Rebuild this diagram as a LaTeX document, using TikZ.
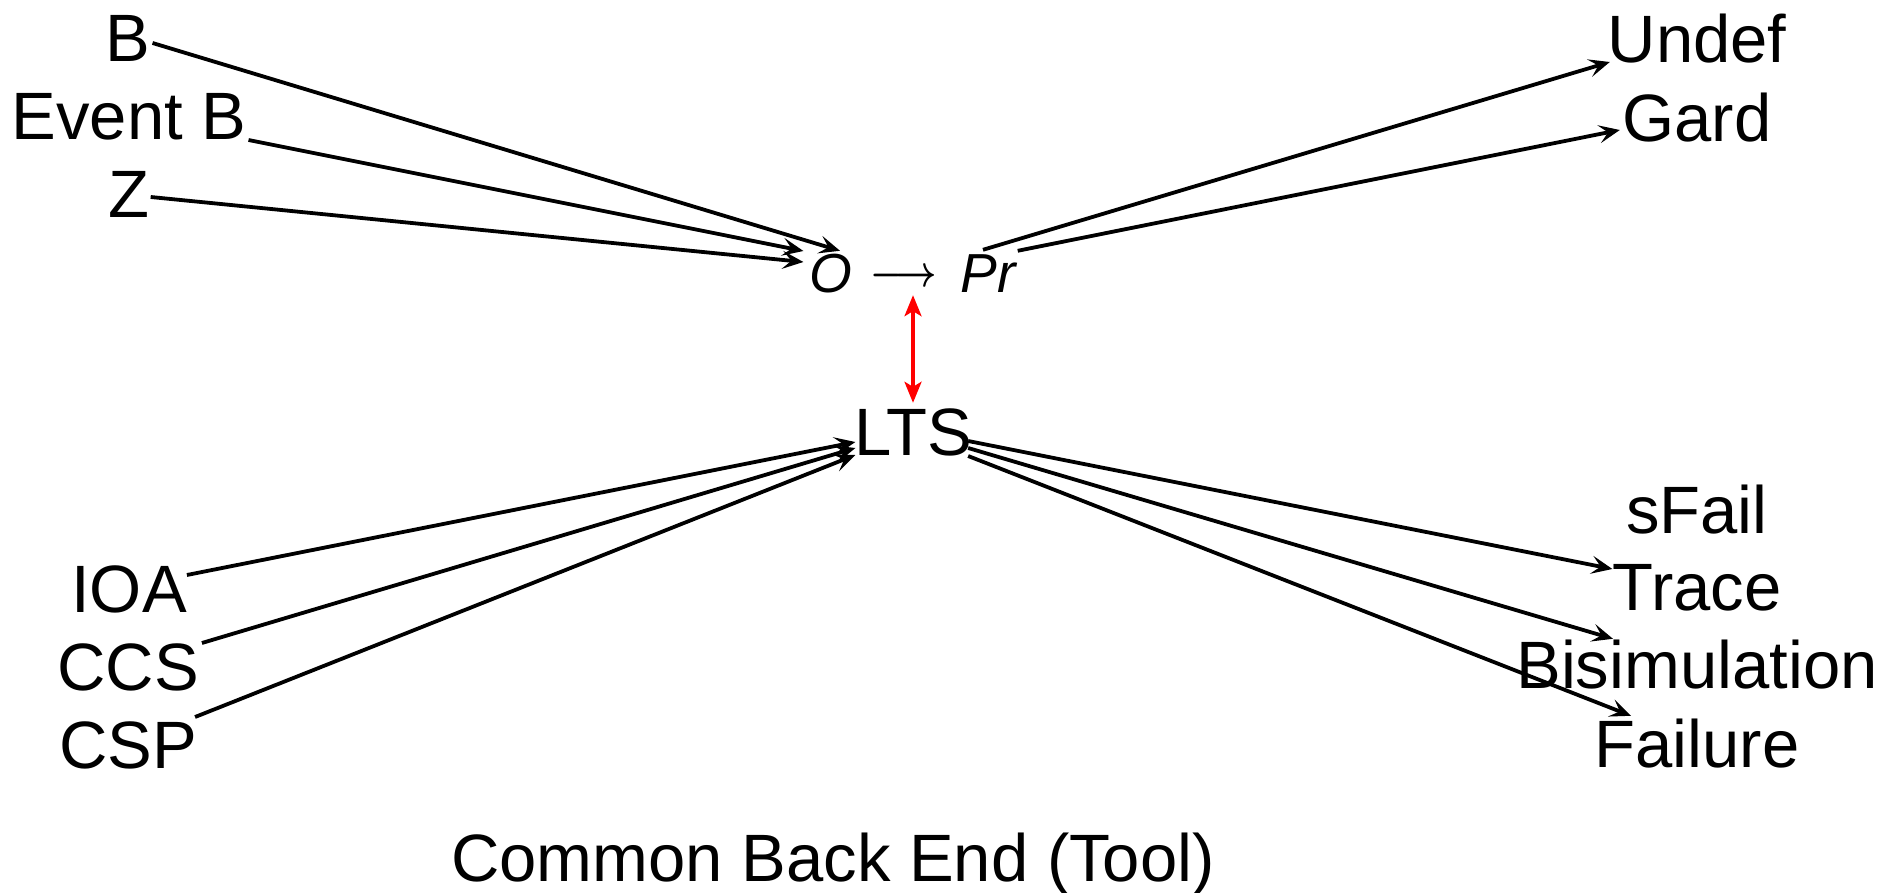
\documentclass[tikz,border=0pt]{standalone}
\usepackage{fontspec}
\setmainfont{Liberation Sans}
\usepackage{graphicx}
\usetikzlibrary{arrows.meta}

\tikzset{
  lbl/.style={inner sep=0pt, font=\fontsize{67}{80}\selectfont, text height=48pt, text depth=0pt},
  sym/.style={inner sep=0pt, font=\fontsize{55}{66}\selectfont\itshape, text height=40pt, text depth=0pt},
  barbtip/.tip={Stealth[length=21pt,width=18pt,inset=9pt]},
  link/.style={line width=3.8pt, -barbtip},
  biarrow/.style={red, line width=3.2pt,
    {Stealth[length=21pt,width=17pt,inset=5pt]}-{Stealth[length=21pt,width=17pt,inset=5pt]}},
}

\begin{document}
\begin{tikzpicture}[x=1pt,y=-1pt]
\useasboundingbox (0,0) rectangle (1898,893);

% specification languages (top left)
\node[lbl] (b)   at (128,38)  {B};
\node[lbl] (evb) at (129,116) {Event B};
\node[lbl] (z)   at (129,194) {Z};

% O -> Pr
\node[sym] (o)  at (831,273) {O};
\node[inner sep=0pt, anchor=base] (arr) at (904,287) {\scalebox{3.6}[4.4]{$\mathversion{bold}\longrightarrow$}};
\node[sym] (pr) at (988,273) {Pr};

% results (top right)
\node[lbl] (undef) at (1697,39)  {Undef};
\node[lbl] (gard)  at (1697,118) {Gard};

% LTS
\node[lbl] (lts) at (913,431) {LTS};

% process languages (bottom left)
\node[lbl] (ioa) at (129,588) {IOA};
\node[lbl] (ccs) at (128,666) {CCS};
\node[lbl] (csp) at (128,744) {CSP};

% equivalences (bottom right)
\node[lbl] (sfail)   at (1697,509) {sFail};
\node[lbl] (trace)   at (1697,586) {Trace};
\node[lbl] (bisim)   at (1697,664) {Bisimulation};
\node[lbl] (failure) at (1697,743) {Failure};

% caption
\node[lbl] (cbe) at (833,857) {Common Back End (Tool)};

% connectors into O
\draw[link] ([shift={(2,5)}]b.east)    -- ([shift={(9,-2)}]o.north);
\draw[link] ([shift={(2,24)}]evb.east) -- ([shift={(-6,-22)}]o.west);
\draw[link] ([shift={(1,3)}]z.east)    -- ([shift={(-6,-11)}]o.west);

% connectors out of Pr
\draw[link] ([shift={(-5,-3)}]pr.north)     -- ([shift={(2.4,23)}]undef.west);
\draw[link] ([shift={(2,-2)}]pr.north east) -- ([shift={(-2.5,12)}]gard.west);

% connectors into LTS
\draw[link] ([shift={(0,-13)}]ioa.east)  -- ([shift={(1.5,11)}]lts.west);
\draw[link] ([shift={(3,-23)}]ccs.east)  -- ([shift={(1.5,17)}]lts.west);
\draw[link] ([shift={(-2,-27)}]csp.east) -- ([shift={(1.5,24)}]lts.west);

% connectors out of LTS
\draw[link] ([shift={(-4,10)}]lts.east) -- ([shift={(0,-17)}]trace.west);
\draw[link] ([shift={(-4,17)}]lts.east) -- ([shift={(-84,-1)}]bisim.north);
\draw[link] ([shift={(-4,25)}]lts.east) -- ([shift={(-66,-3)}]failure.north);

% correspondence between O -> Pr and LTS
\coordinate (rtop) at (lts.north |- arr.south);
\draw[biarrow] ([yshift=-8pt]rtop) -- ([yshift=4pt]lts.north);
\end{tikzpicture}
\end{document}
